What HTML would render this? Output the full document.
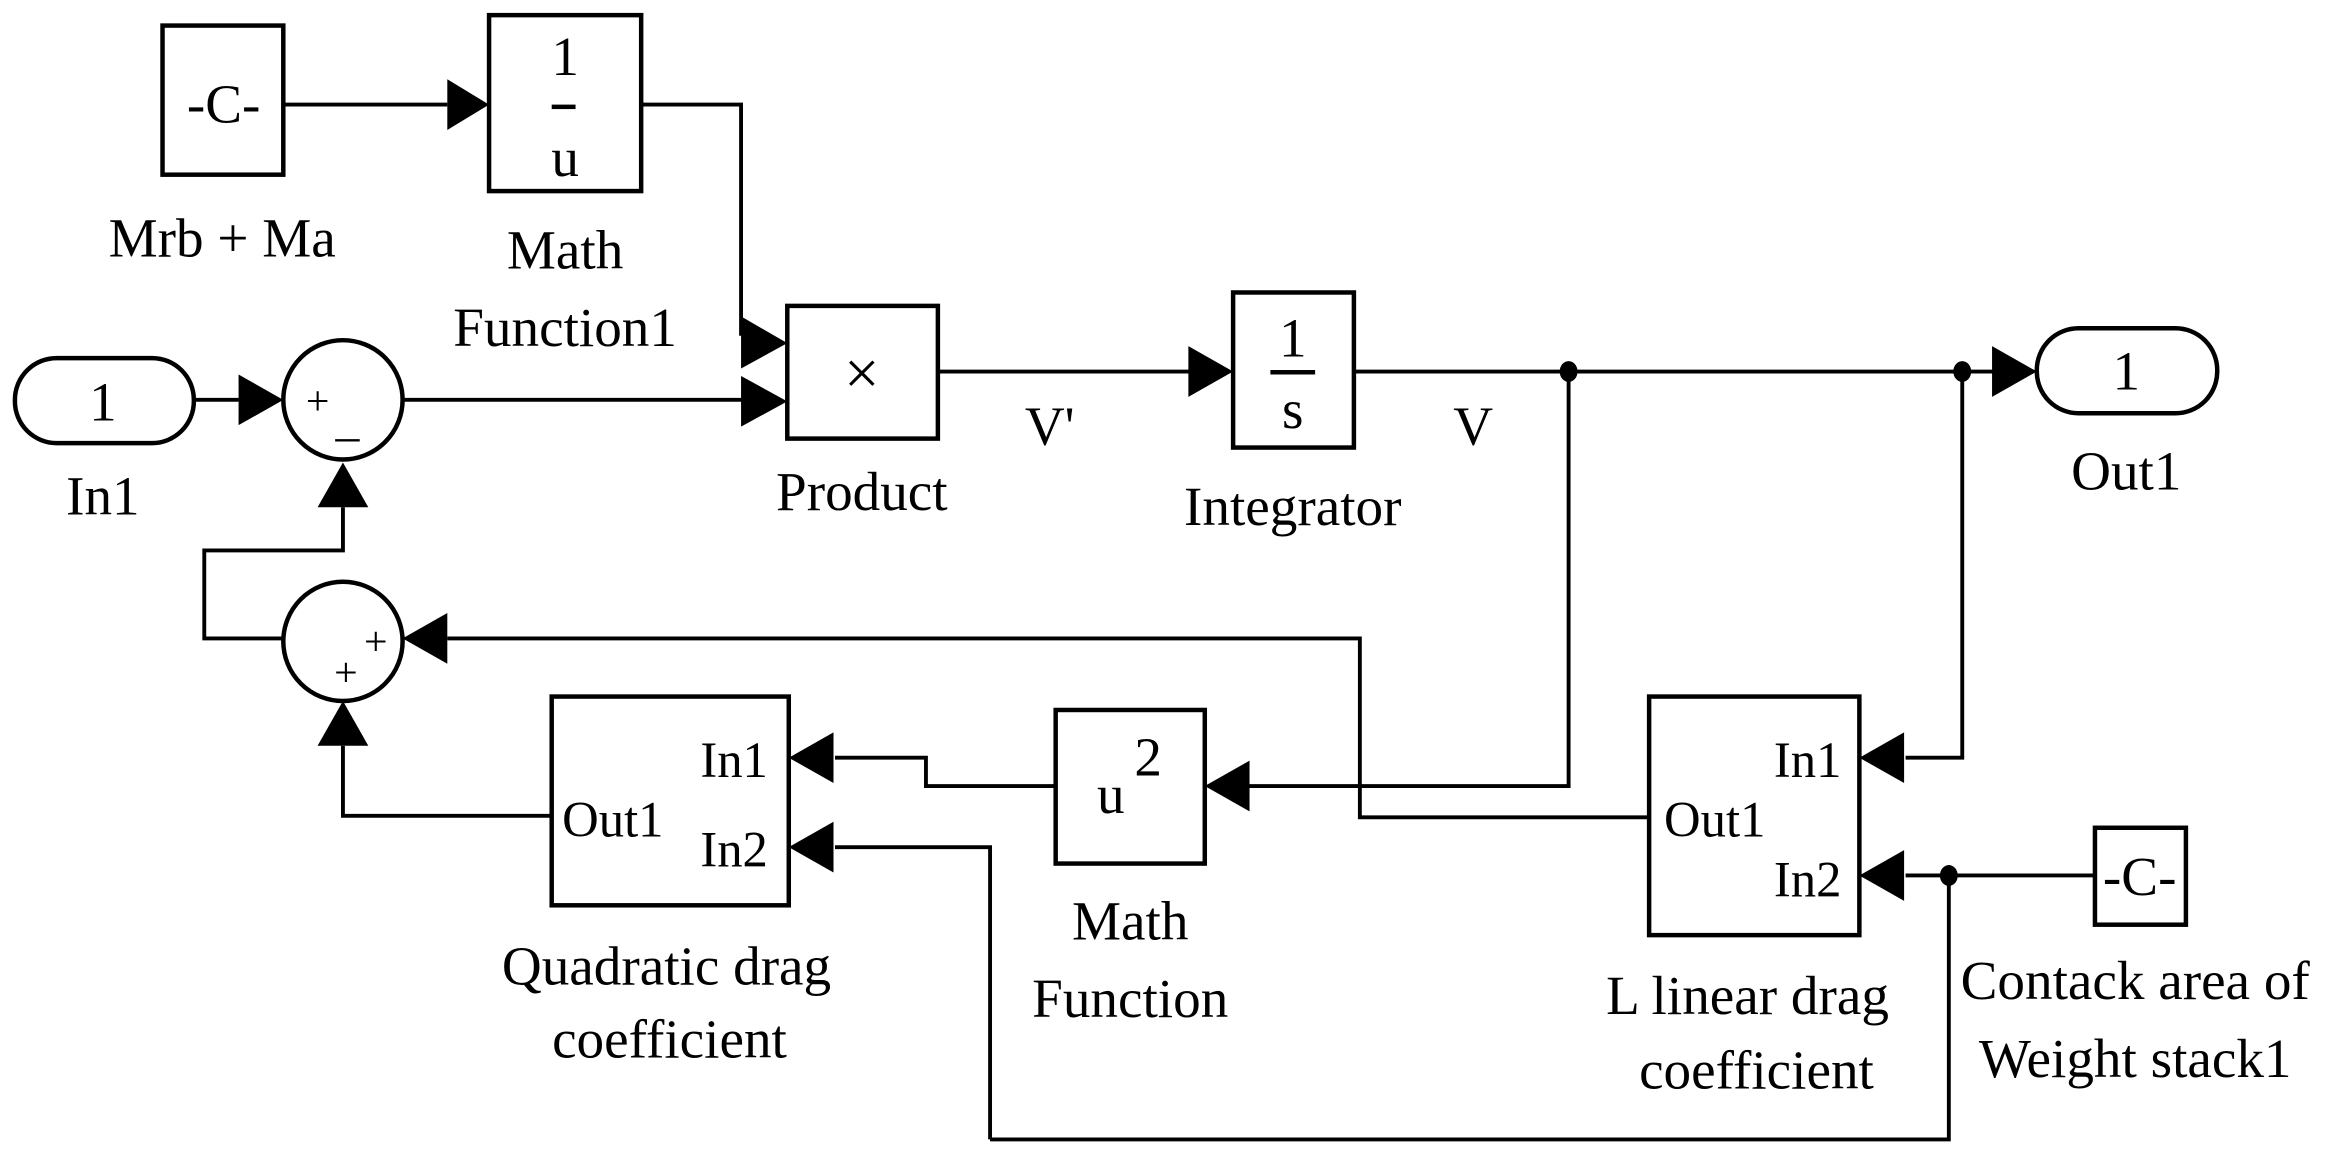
<!DOCTYPE html>
<html><head><meta charset="utf-8"><style>
html,body{margin:0;padding:0;background:#fff;}
svg{display:block;}
text{font-family:"Liberation Serif",serif;fill:#000;}
</style></head><body>
<svg width="2338" height="1162" viewBox="0 0 1568 779" xmlns="http://www.w3.org/2000/svg">
<g fill="none" stroke="#000" stroke-width="3">
<rect x="109" y="17" width="81" height="100"/>
<rect x="328" y="10" width="102" height="118"/>
<rect x="10" y="240" width="120" height="57" rx="28"/>
<ellipse cx="230" cy="268" rx="40" ry="40"/>
<rect x="528" y="205" width="101" height="89"/>
<rect x="827" y="196" width="81" height="104"/>
<rect x="1366" y="220" width="121" height="57" rx="28"/>
<ellipse cx="230" cy="430" rx="40" ry="40"/>
<rect x="370" y="467" width="159" height="140"/>
<rect x="708" y="476" width="100" height="103"/>
<rect x="1106" y="467" width="141" height="160"/>
<rect x="1405" y="555" width="61" height="65"/>
</g>
<g fill="none" stroke="#000" stroke-width="2.6">
<polyline points="190,70 300,70"/>
<polyline points="430,70 497,70 497,225"/>
<polyline points="130,268 160,268"/>
<polyline points="270,268 500,268"/>
<polyline points="629,249 800,249"/>
<polyline points="908,249 1338,249"/>
<polyline points="1052,249 1052,527 838,527"/>
<polyline points="708,527 621,527 621,508 560,508"/>
<polyline points="664,764 664,568 560,568"/>
<polyline points="1307,587 1307,764 664,764"/>
<polyline points="370,547 230,547 230,500"/>
<polyline points="1106,548 912,548 912,428 300,428"/>
<polyline points="190,428 137,428 137,369 230,369 230,340"/>
<polyline points="1316,249 1316,508 1278,508"/>
<polyline points="1405,587 1278,587"/>
</g>
<g fill="#000">
<polygon points="300,53 328,70 300,87"/>
<polygon points="497,212 528,230 497,247"/>
<polygon points="497,252 528,269 497,286"/>
<polygon points="160,251 190,268 160,285"/>
<polygon points="797,232 827,249 797,266"/>
<polygon points="1336,232 1366,249 1336,266"/>
<polygon points="838,510 808,527 838,544"/>
<polygon points="559,491 529,508 559,525"/>
<polygon points="559,551 529,568 559,585"/>
<polygon points="1277,491 1247,508 1277,525"/>
<polygon points="1277,570 1247,587 1277,604"/>
<polygon points="300,411 270,428 300,445"/>
<polygon points="213,500 230,470 247,500"/>
<polygon points="213,340 230,310 247,340"/>
<ellipse cx="1052" cy="249" rx="6" ry="7"/>
<ellipse cx="1316" cy="249" rx="6" ry="7"/>
<ellipse cx="1307" cy="587" rx="6" ry="7"/>
</g>
<g font-size="37" text-anchor="middle">
<text x="150" y="82">-C-</text>
<text x="379" y="50">1</text>
<rect x="370" y="70" width="16" height="3"/>
<text x="379" y="118">u</text>
<text x="149" y="172">Mrb + Ma</text>
<text x="379" y="180">Math</text>
<text x="379" y="232">Function1</text>
<text x="69" y="282">1</text>
<text x="69" y="345">In1</text>
<text x="213" y="278" font-size="28">+</text>
<text x="233" y="292" font-size="32">_</text>
<text x="578" y="264" font-size="42">×</text>
<text x="578" y="342">Product</text>
<text x="704" y="298">V'</text>
<text x="867" y="239">1</text>
<rect x="852" y="248" width="30" height="3"/>
<text x="867" y="287">s</text>
<text x="867" y="352">Integrator</text>
<text x="988" y="298">V</text>
<text x="1426" y="261">1</text>
<text x="1426" y="328">Out1</text>
<text x="252" y="439" font-size="28">+</text>
<text x="232" y="460" font-size="28">+</text>
<text x="1435" y="600">-C-</text>
<text x="447" y="660">Quadratic drag</text>
<text x="449" y="709">coefficient</text>
<text x="758" y="630">Math</text>
<text x="758" y="682">Function</text>
<text x="745" y="545">u</text>
<text x="770" y="520">2</text>
<text x="1172" y="680">L linear drag</text>
<text x="1178" y="730">coefficient</text>
<text x="1432" y="670">Contack area of</text>
<text x="1432" y="722">Weight stack1</text>
</g>
<g font-size="34">
<text x="515" y="521" text-anchor="end">In1</text>
<text x="515" y="581" text-anchor="end">In2</text>
<text x="377" y="561">Out1</text>
<text x="1235" y="521" text-anchor="end">In1</text>
<text x="1235" y="601" text-anchor="end">In2</text>
<text x="1116" y="561">Out1</text>
</g>
</svg>
</body></html>
